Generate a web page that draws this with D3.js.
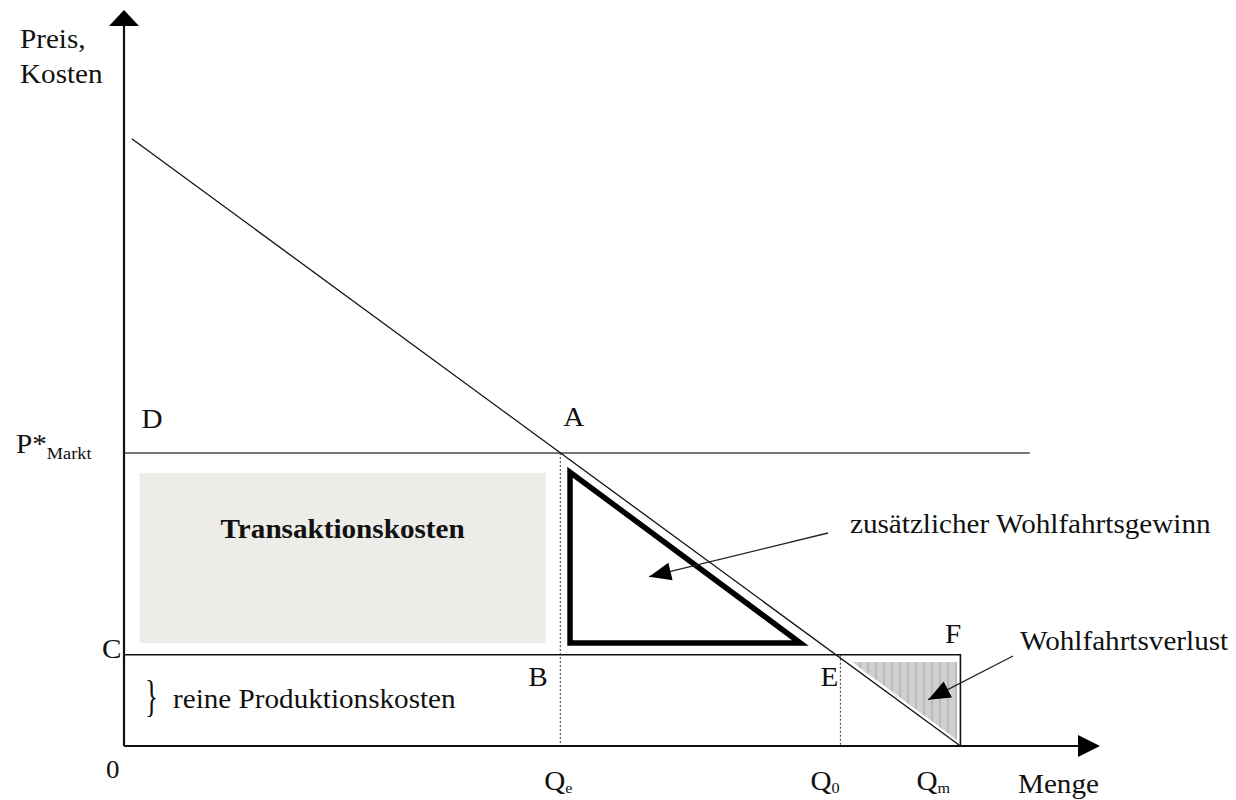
<!DOCTYPE html>
<html lang="de">

<head>
    <meta charset="UTF-8">
    <title>Transaktionskosten</title>
    <script src="https://d3js.org/d3.v7.min.js"></script>
    <style>
        body {
            margin: 0;
            background: #fff;
        }

        svg {
            font-family: "Liberation Serif", "Times New Roman", serif;
        }
    </style>
</head>

<body>
    <svg id="chart" width="1236" height="800"></svg>

    <script>
        // quantity marks on the x axis (Menge)
        const qLabels = ["e", "0", "m"];
        const qValues = [44.7, 73.4, 85.7];

        // price levels (P*Markt and C = reine Produktionskosten)
        const marketPrice = 39.8;
        const productionCost = 12.4;

        // demand curve
        const demandQ = [0.8, 85.7];
        const demandP = [82.5, 0];

        // Transaktionskosten box [q0, q1], [p0, p1]
        const costBoxQ = [1.6, 43.2];
        const costBoxP = [14.0, 37.1];

        // zusätzlicher Wohlfahrtsgewinn (thick triangle)
        const gainQ = [45.7, 45.7, 69.3];
        const gainP = [37.2, 14.0, 14.0];

        // Wohlfahrtsverlust (hatched triangle)
        const lossQ = [74.6, 85.35, 85.35];
        const lossP = [11.4, 11.4, 0.8];

        // arrow targets [q, p] inside the two triangles
        const gainArrowTip = [53.8, 23.0];
        const lossArrowTip = [82.4, 6.3];

        const svg = d3.select("#chart");

        const x = d3.scaleLinear().domain([0, 100]).range([124, 1100]);
        const y = d3.scaleLinear().domain([0, 100]).range([746, 10]);

        const line = d3.line().x(d => x(d[0])).y(d => y(d[1]));

        // hatch pattern
        const defs = svg.append("defs");
        const pat = defs.append("pattern")
            .attr("id", "hatch")
            .attr("patternUnits", "userSpaceOnUse")
            .attr("width", 8).attr("height", 8);
        pat.append("rect").attr("width", 8).attr("height", 8).attr("fill", "#d0d0d0");
        pat.append("line").attr("x1", 4).attr("x2", 4).attr("y1", 0).attr("y2", 8)
            .attr("stroke", "#a4a4a4").attr("stroke-width", 1);

        // Transaktionskosten area
        svg.append("rect")
            .attr("x", x(costBoxQ[0]))
            .attr("y", y(costBoxP[1]))
            .attr("width", x(costBoxQ[1]) - x(costBoxQ[0]))
            .attr("height", y(costBoxP[0]) - y(costBoxP[1]))
            .attr("fill", "#edece8");

        // hatched loss triangle
        svg.append("path")
            .attr("d", line(d3.zip(lossQ, lossP)) + "Z")
            .attr("fill", "url(#hatch)");

        // market price line
        svg.append("path")
            .attr("d", line([[0, marketPrice], [92.8, marketPrice]]))
            .attr("stroke", "#777").attr("stroke-width", 2).attr("fill", "none");

        // production cost line + box up to Qm
        svg.append("path")
            .attr("d", line([[0, productionCost], [qValues[2], productionCost], [qValues[2], 0]]))
            .attr("stroke", "#111").attr("stroke-width", 1.6).attr("fill", "none");

        // dotted verticals at Qe and Q0
        svg.append("path")
            .attr("d", line([[qValues[0], marketPrice], [qValues[0], 0]]))
            .attr("stroke", "#333").attr("stroke-width", 1).attr("stroke-dasharray", "2,2").attr("fill", "none");
        svg.append("path")
            .attr("d", line([[qValues[1], productionCost], [qValues[1], 0]]))
            .attr("stroke", "#333").attr("stroke-width", 1).attr("stroke-dasharray", "2,2").attr("fill", "none");

        // demand line
        svg.append("path")
            .attr("d", line(d3.zip(demandQ, demandP)))
            .attr("stroke", "#111").attr("stroke-width", 1.3).attr("fill", "none");

        // gain triangle
        svg.append("path")
            .attr("d", line(d3.zip(gainQ, gainP)) + "Z")
            .attr("stroke", "#000").attr("stroke-width", 5.5)
            .attr("stroke-linejoin", "miter").attr("fill", "none");

        // axes
        svg.append("path")
            .attr("d", line([[0, 0], [0, 98]]))
            .attr("stroke", "#111").attr("stroke-width", 2.2).attr("fill", "none");
        svg.append("path")
            .attr("d", line([[0, 0], [98, 0]]))
            .attr("stroke", "#111").attr("stroke-width", 2.2).attr("fill", "none");
        // arrowheads
        svg.append("path")
            .attr("d", `M${x(0)},${y(100)} L${x(0) - 15},${y(100) + 16} L${x(0) + 15},${y(100) + 16} Z`)
            .attr("fill", "#000");
        svg.append("path")
            .attr("d", `M${x(100)},${y(0)} L${x(100) - 22},${y(0) - 11} L${x(100) - 22},${y(0) + 11} Z`)
            .attr("fill", "#000");

        // annotation arrows
        function arrow(x1, y1, x2, y2) {
            svg.append("line")
                .attr("x1", x1).attr("y1", y1).attr("x2", x2).attr("y2", y2)
                .attr("stroke", "#222").attr("stroke-width", 1.3);
            const a = Math.atan2(y2 - y1, x2 - x1);
            const len = 22, w = 9;
            const bx = x2 - len * Math.cos(a), by = y2 - len * Math.sin(a);
            const px = -Math.sin(a) * w, py = Math.cos(a) * w;
            svg.append("path")
                .attr("d", `M${x2},${y2} L${bx + px},${by + py} L${bx - px},${by - py} Z`)
                .attr("fill", "#000");
        }
        arrow(828, 533, x(gainArrowTip[0]), y(gainArrowTip[1]));
        arrow(1013, 656, x(lossArrowTip[0]), y(lossArrowTip[1]));

        // text labels (slightly stretched horizontally like the original)
        const fs = 27;
        const stretch = 1.08;
        function label(txt, tx, ty, size, anchor) {
            return svg.append("text")
                .attr("transform", `translate(${tx},${ty}) scale(${stretch},1)`)
                .attr("font-size", size || fs)
                .attr("text-anchor", anchor || "start")
                .attr("fill", "#111")
                .text(txt);
        }

        label("Transaktionskosten", (x(costBoxQ[0]) + x(costBoxQ[1])) / 2, 538, 27, "middle")
            .attr("font-weight", "bold");

        label("Preis,", 20, 48);
        label("Kosten", 20, 83);
        label("0", 106, 778, 25);
        label("Menge", 1018, 793);

        const pm = label("", 16, y(marketPrice));
        pm.append("tspan").text("P*");
        pm.append("tspan").attr("font-size", 17).attr("dy", 6).text("Markt");

        label("D", x(1.6) + 2, y(marketPrice) - 25);
        label("A", x(qValues[0]) + 3, y(marketPrice) - 27);
        label("C", 102, y(productionCost) + 3);
        label("B", x(qValues[0]) - 32, y(productionCost) + 31);
        label("E", x(qValues[1]) - 20, y(productionCost) + 31);
        label("F", 945, y(productionCost) - 12);

        // Q labels
        const qSpan = [x(qValues[0]) - 16, x(qValues[1]) - 30, x(qValues[2]) - 44];
        qLabels.forEach((s, i) => {
            const t = label("", qSpan[i], 790);
            t.append("tspan").text("Q");
            t.append("tspan").attr("font-size", 15).attr("dy", 3).text(s);
        });

        svg.append("text")
            .attr("transform", "translate(145,711) scale(0.9,1.45)")
            .attr("font-size", 30)
            .attr("fill", "#111")
            .text("}");
        label("reine Produktionskosten", 173, 708);
        label("zusätzlicher Wohlfahrtsgewinn", 850, 533);
        label("Wohlfahrtsverlust", 1020, 650);
    </script>
</body>

</html>
